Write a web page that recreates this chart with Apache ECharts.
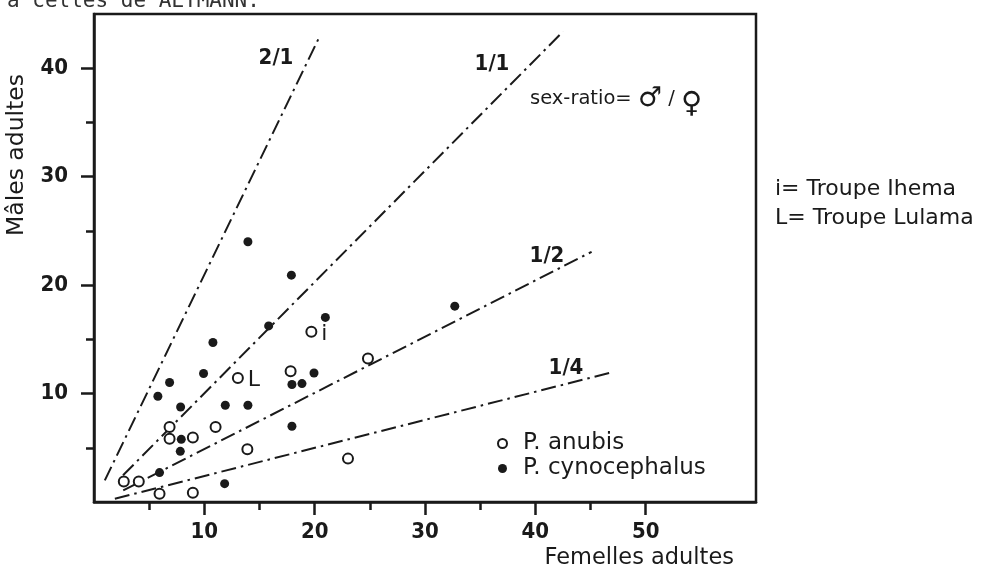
<!DOCTYPE html>
<html>
<head>
<meta charset="utf-8">
<script src="https://cdn.jsdelivr.net/npm/echarts@6/dist/echarts.min.js"></script>
<style>
html,body{margin:0;padding:0;background:#fff;}
#chart{width:984px;height:569px;}
</style>
</head>
<body>
<div id="chart"></div>
<script>
// ---- data ----
const anubisFemales = [2.7, 4.06, 5.94, 8.96, 6.85, 6.85, 8.96, 11.02, 13.9, 23.02, 13.04, 17.82, 19.7, 24.83];
const anubisMales   = [1.9, 1.9, 0.77, 0.86, 6.92, 5.84, 5.94, 6.92, 4.86, 4.0, 11.44, 12.06, 15.69, 13.23];
const anubisTags    = ['', '', '', '', '', '', '', '', '', '', 'L', '', 'i', ''];

const cynoFemales = [13.95, 17.89, 15.83, 20.97, 10.78, 6.85, 9.93, 19.94, 17.94, 18.85, 5.79, 7.85, 11.9, 13.95, 17.94, 7.91, 7.82, 5.94, 11.84, 32.7];
const cynoMales   = [24.0, 20.92, 16.24, 17.02, 14.71, 11.02, 11.85, 11.9, 10.83, 10.92, 9.75, 8.76, 8.92, 8.92, 6.98, 5.78, 4.67, 2.71, 1.69, 18.06];

const ratioLabels = ['2/1', '1/1', '1/2', '1/4'];
const ratioFemales = [[0.98, 20.52], [2.63, 42.52], [2.65, 45.1], [1.89, 47.06]];
const ratioMales   = [[1.99, 43.08], [2.46, 43.39], [1.07, 23.07], [0.30, 11.99]];

const xTickLabels = [10, 20, 30, 40, 50];
const xMinorTicks = [5, 15, 25, 35, 45];
const yTickLabels = [10, 20, 30, 40];
const yMinorTicks = [5, 15, 25, 35];

const seriesNames = ['P. anubis', 'P. cynocephalus'];
const xTitle = 'Femelles adultes';
const yTitle = 'Mâles adultes';
const topText = 'à celles de ALTMANN.';
const ratioText = 'sex-ratio= ';
const keyLines = ['i= Troupe Ihema', 'L= Troupe Lulama'];

// ---- styling ----
const INK = '#1a1a1a';
const FONT = "'DejaVu Sans', sans-serif";
const NUMFONT = "'Liberation Sans Narrow', 'DejaVu Sans Condensed', 'DejaVu Sans', sans-serif";

const chart = echarts.init(document.getElementById('chart'), null, {renderer: 'canvas'});

function axisBase(min, max, pos) {
  return {
    type: 'value', min: min, max: max, position: pos,
    splitLine: {show: false}
  };
}

const xMajor = Object.assign(axisBase(0, 60, 'bottom'), {
  axisLine: {show: true, onZero: false, lineStyle: {color: INK, width: 2.5}},
  axisTick: {show: true, customValues: xTickLabels, length: 13, lineStyle: {color: INK, width: 2.5}},
  axisLabel: {customValues: xTickLabels, margin: 19, color: INK, fontSize: 22, fontWeight: 'bold', fontFamily: NUMFONT}
});
const xMinor = Object.assign(axisBase(0, 60, 'bottom'), {
  axisLine: {show: false},
  axisTick: {show: true, customValues: xMinorTicks, length: 8, lineStyle: {color: INK, width: 2.5}},
  axisLabel: {show: false}
});
const yMajor = Object.assign(axisBase(0, 45, 'left'), {
  axisLine: {show: true, onZero: false, lineStyle: {color: INK, width: 2.5}},
  axisTick: {show: true, customValues: yTickLabels, length: 13, lineStyle: {color: INK, width: 2.5}},
  axisLabel: {customValues: yTickLabels, margin: 26, color: INK, fontSize: 22, fontWeight: 'bold', fontFamily: NUMFONT}
});
const yMinor = Object.assign(axisBase(0, 45, 'left'), {
  axisLine: {show: false},
  axisTick: {show: true, customValues: yMinorTicks, length: 8, lineStyle: {color: INK, width: 2.5}},
  axisLabel: {show: false}
});

const lineSeries = ratioLabels.map(function (lab, i) {
  return {
    type: 'line', name: lab, xAxisIndex: 0, yAxisIndex: 0,
    data: ratioFemales[i].map(function (f, k) { return [f, ratioMales[i][k]]; }),
    symbol: 'none', silent: true, z: 1,
    lineStyle: {color: INK, width: 2, type: [15, 5, 2.5, 5]}
  };
});

const anubisData = anubisFemales.map(function (f, i) {
  const d = {value: [f, anubisMales[i]]};
  if (anubisTags[i]) {
    d.label = {show: true, formatter: anubisTags[i], position: 'right', distance: 4,
      offset: [0, 2], color: INK, fontSize: 22, fontFamily: FONT};
  }
  return d;
});
const cynoData = cynoFemales.map(function (f, i) { return [f, cynoMales[i]]; });

const option = {
  backgroundColor: '#ffffff',
  animation: false,
  grid: {left: 94, right: 228, top: 14, bottom: 67, show: true, borderColor: INK, borderWidth: 2.5, backgroundColor: 'transparent'},
  xAxis: [xMajor, xMinor],
  yAxis: [yMajor, yMinor],
  legend: {
    data: seriesNames, orient: 'vertical', left: 492, top: 427,
    itemWidth: 9, itemHeight: 9, itemGap: 2, icon: 'circle',
    textStyle: {color: INK, fontSize: 23, fontFamily: FONT, padding: [0, 0, 0, 11], lineHeight: 22}
  },
  series: lineSeries.concat([
    {
      type: 'scatter', name: seriesNames[0], data: anubisData, symbol: 'circle', symbolSize: 10, z: 3,
      itemStyle: {color: '#ffffff', borderColor: INK, borderWidth: 2, opacity: 1}
    },
    {
      type: 'scatter', name: seriesNames[1], data: cynoData, symbol: 'circle', symbolSize: 9, z: 4,
      itemStyle: {color: INK, opacity: 1}
    }
  ]),
  graphic: [
    {type: 'text', left: 7, top: -9, style: {text: topText, fill: '#333', font: "21px 'DejaVu Sans Mono', monospace"}},
    {type: 'text', x: 17, y: 155, rotation: Math.PI / 2,
      style: {text: yTitle, fill: INK, font: "23.5px " + FONT, align: 'center', verticalAlign: 'middle'}},
    {type: 'text', x: 734, y: 558,
      style: {text: xTitle, fill: INK, font: "22.5px " + FONT, align: 'right', verticalAlign: 'middle'}},
    {type: 'text', x: 276, y: 58, style: {text: ratioLabels[0], fill: INK, font: "bold 22px " + NUMFONT, align: 'center', verticalAlign: 'middle'}},
    {type: 'text', x: 492, y: 64, style: {text: ratioLabels[1], fill: INK, font: "bold 22px " + NUMFONT, align: 'center', verticalAlign: 'middle'}},
    {type: 'text', x: 547, y: 256, style: {text: ratioLabels[2], fill: INK, font: "bold 22px " + NUMFONT, align: 'center', verticalAlign: 'middle'}},
    {type: 'text', x: 566, y: 368, style: {text: ratioLabels[3], fill: INK, font: "bold 22px " + NUMFONT, align: 'center', verticalAlign: 'middle'}},
    {type: 'text', x: 530, y: 99, style: {
      text: '{t|' + ratioText + '}{m|♂}{t| / }{f|♀}',
      verticalAlign: 'middle',
      rich: {
        t: {fill: INK, font: "19.5px " + FONT},
        m: {fill: INK, font: "27px " + FONT},
        f: {fill: INK, font: "29px " + FONT, padding: [10, 0, 0, 0]}
      }
    }},
    {type: 'text', x: 775, y: 189, style: {text: keyLines[0], fill: INK, font: "22px " + FONT, verticalAlign: 'middle'}},
    {type: 'text', x: 775, y: 218, style: {text: keyLines[1], fill: INK, font: "22px " + FONT, verticalAlign: 'middle'}}
  ]
};
chart.setOption(option);
</script>
</body>
</html>
